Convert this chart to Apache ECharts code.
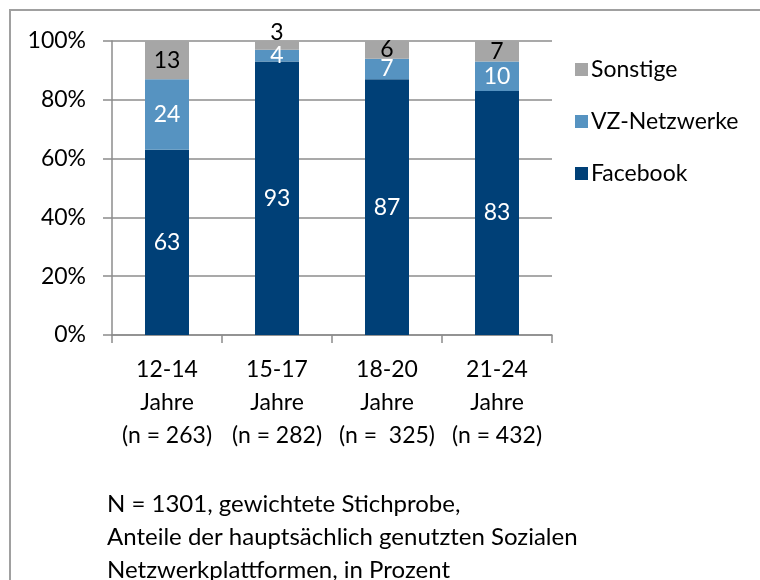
<!DOCTYPE html>
<html>
<head>
<meta charset="utf-8">
<script src="https://cdn.jsdelivr.net/npm/echarts@6/dist/echarts.min.js"></script>
<style>
html, body { margin: 0; padding: 0; background: #fff; }
#main { width: 760px; height: 580px; }
</style>
</head>
<body>
<div id="main"></div>
<script>
// Altersgruppen und Anteile (in Prozent)
var categories = ['12-14\nJahre\n(n = 263)', '15-17\nJahre\n(n = 282)', '18-20\nJahre\n(n =  325)', '21-24\nJahre\n(n = 432)'];
var facebook = [63, 93, 87, 83];
var vzNetzwerke = [24, 4, 7, 10];
var sonstige = [13, 3, 6, 7];
var yTicks = [0, 20, 40, 60, 80, 100];
var footnote = [
    'N = 1301, gewichtete Stichprobe,',
    'Anteile der hauptsächlich genutzten Sozialen',
    'Netzwerkplattformen, in Prozent'
];

var font = 'Lato';
var myChart = echarts.init(document.getElementById('main'));

// kleine Werte oben ueber den Balken
var sonstigeData = sonstige.map(function (v) {
    if (v < 5) {
        return { value: v, label: { position: 'top', distance: -3 } };
    }
    return v;
});

option = {
    animation: false,
    textStyle: { fontFamily: font },
    graphic: [
        {
            type: 'rect',
            shape: { x: 10, y: 10, width: 800, height: 620 },
            style: { fill: 'none', stroke: '#a0a0a0', lineWidth: 2 }
        }
    ],
    title: {
        text: footnote.join('\n'),
        left: 102,
        top: 483,
        textStyle: { fontFamily: font, fontWeight: 'normal', fontSize: 24, lineHeight: 33, color: '#000' }
    },
    legend: {
        orient: 'vertical',
        left: 570,
        top: 53,
        itemWidth: 13,
        itemHeight: 13,
        itemGap: 29,
        icon: 'rect',
        data: ['Sonstige', 'VZ-Netzwerke', 'Facebook'],
        textStyle: { fontFamily: font, fontSize: 23, color: '#000', padding: [0, 0, 0, -2] }
    },
    grid: { left: 112, right: 208, top: 41, bottom: 245 },
    xAxis: {
        type: 'category',
        data: categories,
        axisLine: { lineStyle: { color: '#8c8c8c', width: 1.5 } },
        axisTick: { show: true, length: 8, lineStyle: { color: '#8c8c8c', width: 1.5 } },
        axisLabel: { interval: 0, fontFamily: font, fontSize: 23, color: '#000', lineHeight: 33, margin: 18 }
    },
    yAxis: {
        type: 'value',
        min: yTicks[0],
        max: yTicks[yTicks.length - 1],
        interval: 20,
        axisLine: { show: true, lineStyle: { color: '#8c8c8c', width: 1.5 } },
        axisTick: { show: true, length: 9, lineStyle: { color: '#8c8c8c', width: 1.5 } },
        splitLine: { lineStyle: { color: '#8c8c8c', width: 1.5 } },
        axisLabel: { fontFamily: font, fontSize: 23, color: '#000', margin: 26, formatter: '{value}%' }
    },
    series: [
        {
            name: 'Facebook',
            type: 'bar',
            stack: 'gesamt',
            barWidth: '40%',
            itemStyle: { color: '#004077' },
            label: { show: true, position: 'inside', color: '#fff', fontFamily: font, fontSize: 23 },
            data: facebook
        },
        {
            name: 'VZ-Netzwerke',
            type: 'bar',
            stack: 'gesamt',
            itemStyle: { color: '#5693c1' },
            label: { show: true, position: 'inside', color: '#fff', fontFamily: font, fontSize: 23 },
            data: vzNetzwerke
        },
        {
            name: 'Sonstige',
            type: 'bar',
            stack: 'gesamt',
            itemStyle: { color: '#a6a6a6' },
            label: { show: true, position: 'inside', color: '#000', fontFamily: font, fontSize: 23 },
            data: sonstigeData
        }
    ]
};
myChart.setOption(option);
</script>
</body>
</html>
